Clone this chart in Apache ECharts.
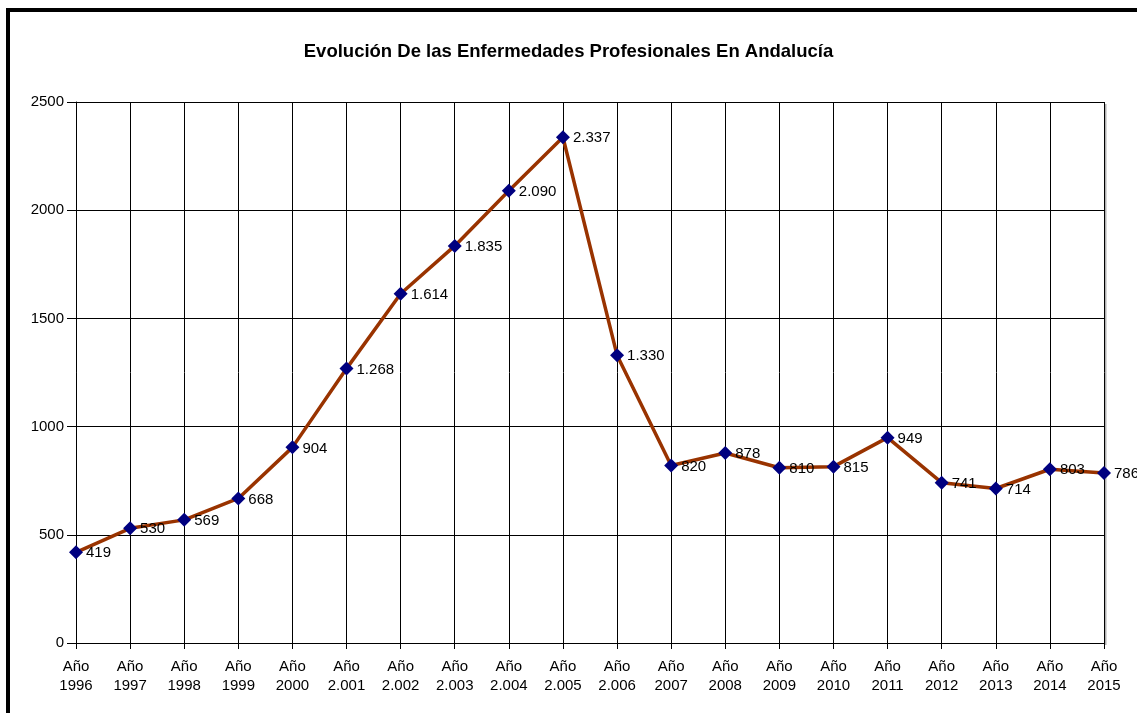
<!DOCTYPE html>
<html>
<head>
<meta charset="utf-8">
<script src="https://cdn.jsdelivr.net/npm/echarts@6/dist/echarts.min.js"></script>
<style>
  html, body { margin: 0; padding: 0; background: #fff; }
  #frame {
    position: absolute; left: 6px; top: 8px; width: 1128px; height: 720px;
    border-left: 4px solid #000; border-top: 4px solid #000;
  }
  #chart { position: absolute; left: 0; top: 0; width: 1137px; height: 713px; }
</style>
</head>
<body>
<div id="frame"></div>
<div id="chart"></div>
<script>
const years = ["1996", "1997", "1998", "1999", "2000", "2.001", "2.002", "2.003", "2.004", "2.005",
    "2.006", "2007", "2008", "2009", "2010", "2011", "2012", "2013", "2014", "2015"];
const cases = [419, 530, 569, 668, 904, 1268, 1614, 1835, 2090, 2337,
    1330, 820, 878, 810, 815, 949, 741, 714, 803, 786];
const yTicks = { min: 0, max: 2500, interval: 500 };

const fontFamily = "Liberation Sans, Arial, sans-serif";

function formatThousands(v) {
    return String(v).replace(/\B(?=(\d{3})+(?!\d))/g, ".");
}

const chart = echarts.init(document.getElementById("chart"));

const option = {
    animation: false,
    title: {
        text: "Evolución De las Enfermedades Profesionales En Andalucía",
        left: "center",
        top: 37,
        textStyle: { fontFamily, fontSize: 18.5, fontWeight: "bold", color: "#000" },
    },
    grid: { left: 76, right: 33, top: 102, bottom: 70 },
    xAxis: {
        type: "category",
        data: years,
        boundaryGap: false,
        axisLine: { lineStyle: { color: "#000", width: 1 } },
        axisTick: { show: true, length: 6, lineStyle: { color: "#000" }, alignWithLabel: true },
        axisLabel: {
            interval: 0,
            margin: 14,
            color: "#000",
            fontFamily,
            fontSize: 15,
            lineHeight: 19,
            formatter: (v) => "Año\n" + v,
        },
        splitLine: { show: true, lineStyle: { color: "#000", width: 1 } },
    },
    yAxis: {
        type: "value",
        min: yTicks.min,
        max: yTicks.max,
        interval: yTicks.interval,
        axisLine: { show: true, lineStyle: { color: "#000", width: 1 } },
        axisTick: { show: true, length: 9, inside: false, lineStyle: { color: "#000" } },
        axisLabel: {
            color: "#000",
            fontFamily,
            fontSize: 15,
            margin: 12,
            formatter: (v) => String(v),
        },
        splitLine: { show: true, lineStyle: { color: "#000", width: 1 } },
    },
    series: [
        {
            type: "line",
            data: cases,
            symbol: "diamond",
            symbolSize: 14,
            itemStyle: { color: "#000080" },
            lineStyle: { color: "#993300", width: 3.5 },
            z: 3,
            label: {
                show: true,
                position: "right",
                distance: 3,
                offset: [0, 1],
                color: "#000",
                fontFamily,
                fontSize: 15,
                formatter: (p) => formatThousands(p.value),
            },
        },
    ],
    graphic: [
        {
            type: "line",
            shape: { x1: 1105.5, y1: 104, x2: 1105.5, y2: 645 },
            style: { stroke: "#b0b0b0", lineWidth: 2 },
            z: 0,
        },
    ],
};

chart.setOption(option);
window.addEventListener("resize", () => chart.resize());
</script>
</body>
</html>
